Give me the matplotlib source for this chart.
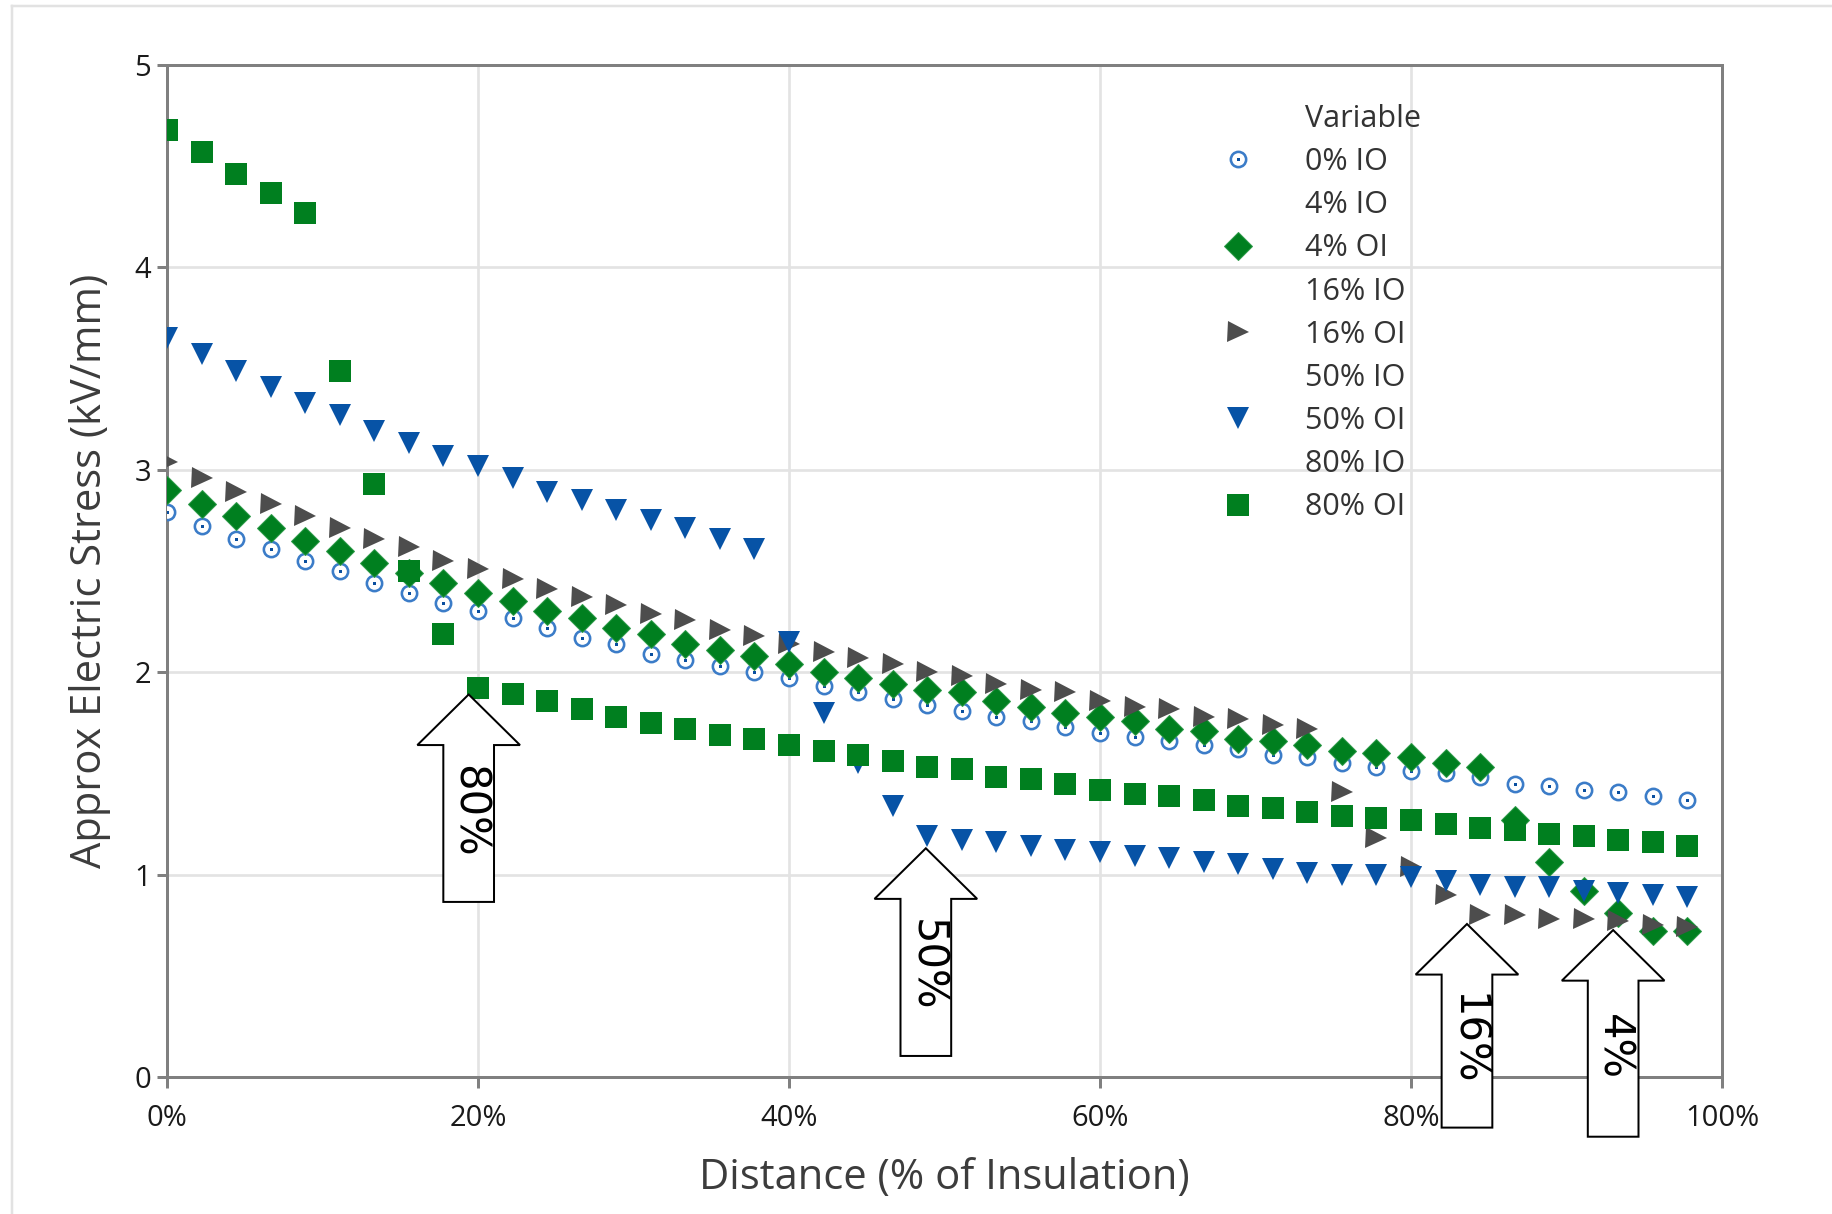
import matplotlib
matplotlib.use("Agg")
import matplotlib.pyplot as plt
from matplotlib.lines import Line2D
from matplotlib.patches import Polygon
from matplotlib.legend_handler import HandlerTuple

# ---------------------------------------------------------------- data
distance_pct = [0.0, 2.22, 4.44, 6.67, 8.89, 11.11, 13.33, 15.56, 17.78, 20.0,
                22.22, 24.44, 26.67, 28.89, 31.11, 33.33, 35.56, 37.78, 40.0, 42.22,
                44.44, 46.67, 48.89, 51.11, 53.33, 55.56, 57.78, 60.0, 62.22, 64.44,
                66.67, 68.89, 71.11, 73.33, 75.56, 77.78, 80.0, 82.22, 84.44, 86.67,
                88.89, 91.11, 93.33, 95.56, 97.78]

stress_0_io = [2.79, 2.72, 2.66, 2.61, 2.55, 2.50, 2.44, 2.39, 2.34, 2.30,
               2.27, 2.22, 2.17, 2.14, 2.09, 2.06, 2.03, 2.00, 1.97, 1.93,
               1.90, 1.87, 1.84, 1.81, 1.78, 1.76, 1.73, 1.70, 1.68, 1.66,
               1.64, 1.62, 1.59, 1.58, 1.55, 1.53, 1.51, 1.50, 1.48, 1.45,
               1.44, 1.42, 1.41, 1.39, 1.37]

stress_4_oi = [2.90, 2.83, 2.77, 2.71, 2.65, 2.60, 2.54, 2.49, 2.44, 2.39,
               2.35, 2.30, 2.27, 2.22, 2.19, 2.14, 2.11, 2.08, 2.04, 2.00,
               1.97, 1.94, 1.91, 1.90, 1.86, 1.83, 1.80, 1.78, 1.76, 1.72,
               1.71, 1.67, 1.66, 1.64, 1.61, 1.60, 1.58, 1.55, 1.53, 1.27,
               1.06, 0.92, 0.81, 0.72, 0.72]

stress_16_oi = [3.04, 2.96, 2.89, 2.83, 2.77, 2.71, 2.66, 2.62, 2.55, 2.51,
                2.46, 2.41, 2.37, 2.33, 2.29, 2.26, 2.21, 2.18, 2.14, 2.10,
                2.07, 2.04, 2.00, 1.98, 1.94, 1.91, 1.90, 1.86, 1.83, 1.82,
                1.78, 1.77, 1.74, 1.72, 1.41, 1.18, 1.04, 0.90, 0.80, 0.80,
                0.78, 0.78, 0.77, 0.75, 0.74]

stress_50_oi = [3.65, 3.57, 3.49, 3.41, 3.33, 3.27, 3.19, 3.13, 3.07, 3.02,
                2.96, 2.89, 2.85, 2.80, 2.75, 2.71, 2.66, 2.61, 2.15, 1.80,
                1.55, 1.34, 1.19, 1.17, 1.16, 1.14, 1.12, 1.11, 1.09, 1.08,
                1.06, 1.05, 1.03, 1.01, 1.00, 1.00, 0.99, 0.97, 0.95, 0.94,
                0.94, 0.92, 0.91, 0.90, 0.89]

stress_80_oi = [4.68, 4.57, 4.46, 4.37, 4.27, 3.49, 2.93, 2.50, 2.19, 1.92,
                1.89, 1.86, 1.82, 1.78, 1.75, 1.72, 1.69, 1.67, 1.64, 1.61,
                1.59, 1.56, 1.53, 1.52, 1.48, 1.47, 1.45, 1.42, 1.40, 1.39,
                1.37, 1.34, 1.33, 1.31, 1.29, 1.28, 1.27, 1.25, 1.23, 1.22,
                1.20, 1.19, 1.17, 1.16, 1.14]

x_ticks = [0, 20, 40, 60, 80, 100]
x_tick_labels = ["0%", "20%", "40%", "60%", "80%", "100%"]
y_ticks = [0, 1, 2, 3, 4, 5]
y_tick_labels = ["0", "1", "2", "3", "4", "5"]

legend_labels = ["Variable", "0% IO", "4% IO", "4% OI", "16% IO", "16% OI",
                 "50% IO", "50% OI", "80% IO", "80% OI"]

# block-arrow callouts: label, x of tip (%), y of tip, y of shaft bottom
callouts = [("80%", 19.4, 1.89, 0.865),
            ("50%", 48.8, 1.13, 0.104),
            ("16%", 83.6, 0.756, -0.25),
            ("4%", 93.0, 0.726, -0.295)]

# ---------------------------------------------------------------- style
plt.rcParams["font.family"] = ["Open Sans", "DejaVu Sans"]

W, H, DPI = 1832, 1214, 100
PX = 72.0 / DPI  # points per pixel

BLUE_RING = "#3b7cc8"
BLUE_DOT = "#0a4f9f"
BLUE_TRI = "#0753a6"
GREEN = "#007f1f"
GREY_TRI = "#4d4d4d"
SPINE = "#808080"
GRID = "#e3e3e3"

fig = plt.figure(figsize=(W / DPI, H / DPI), dpi=DPI)
fig.patch.set_facecolor("white")

# thin frame around the graph window
fig.add_artist(Line2D([12 / W, 12 / W], [0, 1 - 6 / H], transform=fig.transFigure,
                      color="#e2e2e2", lw=2.5 * PX))
fig.add_artist(Line2D([12 / W, 1], [1 - 6 / H, 1 - 6 / H], transform=fig.transFigure,
                      color="#e2e2e2", lw=2.5 * PX))

ax = fig.add_axes([167 / W, 1 - 1077 / H, 1555 / W, 1012 / H])
ax.set_xlim(0, 100)
ax.set_ylim(0, 5)

ax.grid(True, color=GRID, lw=2.7 * PX)
ax.set_axisbelow(True)
for s in ax.spines.values():
    s.set_color(SPINE)
    s.set_linewidth(3 * PX)

ax.set_xticks(x_ticks, x_tick_labels)
ax.set_yticks(y_ticks, y_tick_labels)
ax.tick_params(axis="both", colors=SPINE, width=3 * PX, labelsize=21,
               labelcolor="#1a1a1a")
ax.tick_params(axis="x", length=11 * PX, pad=16 * PX)
ax.tick_params(axis="y", length=10 * PX, pad=6 * PX)

ax.set_xlabel("Distance (% of Insulation)", fontsize=30, color="#3c3c3c")
ax.set_ylabel("Approx Electric Stress (kV/mm)", fontsize=30, color="#3c3c3c")
ax.xaxis.set_label_coords(0.5, (1077 - 1178) / 1012)
ax.xaxis.label.set_verticalalignment("center")
ax.yaxis.set_label_coords((90 - 167) / 1555, 0.5)
ax.yaxis.label.set_verticalalignment("center")

# ---------------------------------------------------------------- series
ring, = ax.plot(distance_pct, stress_0_io, linestyle="none", marker="o",
                ms=11, mfc="white", mec=BLUE_RING, mew=2.6 * PX, zorder=3)
dot, = ax.plot(distance_pct, stress_0_io, linestyle="none", marker="s",
               ms=3 * PX, mfc=BLUE_DOT, mec=BLUE_DOT, mew=0, zorder=3)
diam, = ax.plot(distance_pct, stress_4_oi, linestyle="none", marker="D",
                ms=19.5 * PX, mfc=GREEN, mec="#2c9a48", mew=1.0 * PX, zorder=3)
rtri, = ax.plot(distance_pct, stress_16_oi, linestyle="none", marker=">",
                ms=21 * PX, mfc=GREY_TRI, mec=GREY_TRI, mew=0, zorder=3)
dtri, = ax.plot(distance_pct, stress_50_oi, linestyle="none", marker="v",
                ms=21.5 * PX, mfc=BLUE_TRI, mec=BLUE_TRI, mew=0, zorder=3)
sq, = ax.plot(distance_pct, stress_80_oi, linestyle="none", marker="s",
              ms=22 * PX, mfc=GREEN, mec=GREEN, mew=0, zorder=3)

# ---------------------------------------------------------------- legend
def blank():
    return Line2D([], [], linestyle="none", marker=None)

handles = [blank(), (ring, dot), blank(), diam, blank(), rtri,
           blank(), dtri, blank(), sq]
leg = ax.legend(handles, legend_labels, loc="upper left",
                bbox_to_anchor=(1207 / W, 1 - 104 / H), bbox_transform=fig.transFigure,
                frameon=False, fontsize=22, handlelength=2.0, handletextpad=1.22,
                labelspacing=0.43, borderpad=0, borderaxespad=0,
                handler_map={tuple: HandlerTuple(ndivide=1, pad=0)})
for t in leg.get_texts():
    t.set_color("#333333")

# ---------------------------------------------------------------- callouts
head_len = 0.25
head_half = 3.3
shaft_half = 1.63
for label, xt, yt, yb in callouts:
    yh = yt - head_len
    verts = [(xt, yt), (xt + head_half, yh), (xt + shaft_half, yh),
             (xt + shaft_half, yb), (xt - shaft_half, yb), (xt - shaft_half, yh),
             (xt - head_half, yh)]
    ax.add_patch(Polygon(verts, closed=True, facecolor="white", edgecolor="black",
                         lw=2 * PX, clip_on=False, zorder=6))
    ax.text(xt, (yh + yb) / 2 + 0.06, label, rotation=270, ha="center", va="center",
            fontsize=30, color="black", family=["Liberation Sans Narrow", "DejaVu Sans"],
            clip_on=False, zorder=7)

fig.savefig("out.png", dpi=DPI)
